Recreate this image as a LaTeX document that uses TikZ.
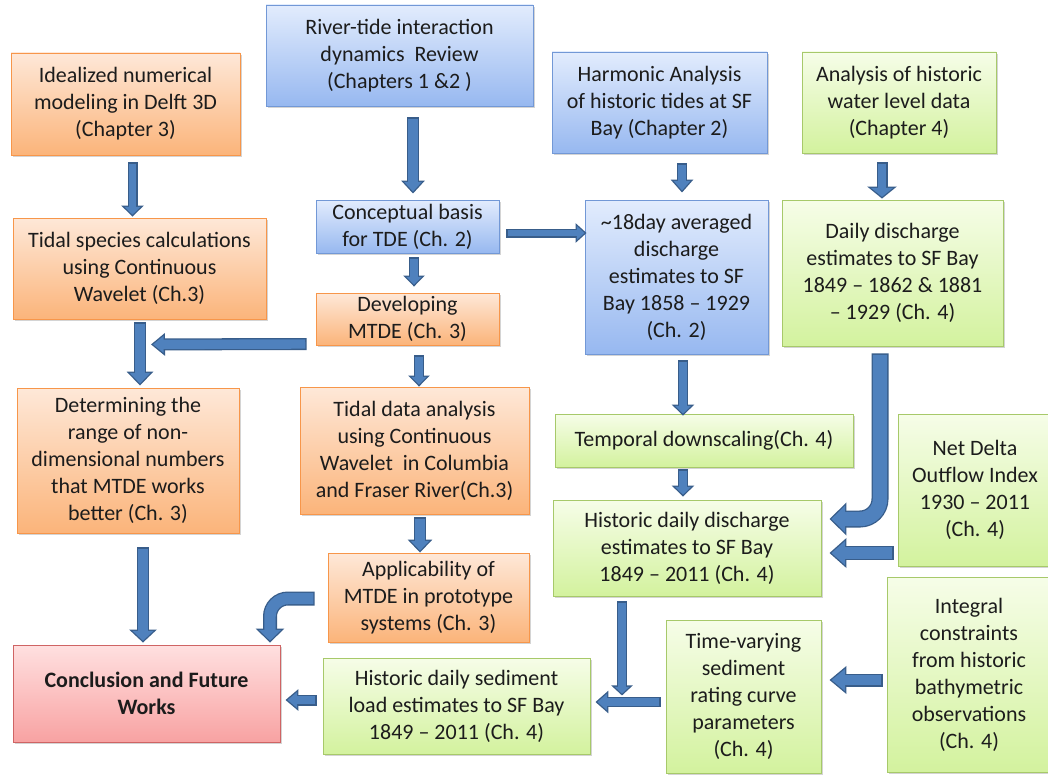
\documentclass[tikz,border=0pt]{standalone}
\usepackage{fontspec}
\setmainfont{Carlito}
\usetikzlibrary{arrows.meta,calc,shadows}
\definecolor{bT}{HTML}{E2ECFD}
\definecolor{bBo}{HTML}{97B8F0}
\definecolor{bB}{HTML}{7298D6}
\definecolor{oT}{HTML}{FEE8D8}
\definecolor{oBo}{HTML}{FBB47A}
\definecolor{oB}{HTML}{F7964A}
\definecolor{gT}{HTML}{F6FDE8}
\definecolor{gBo}{HTML}{D3F29E}
\definecolor{gB}{HTML}{A7C96A}
\definecolor{rT}{HTML}{FFE0E0}
\definecolor{rBo}{HTML}{F8A2A2}
\definecolor{rB}{HTML}{CF6464}
\definecolor{arrF}{HTML}{4F81BD}
\definecolor{arrB}{HTML}{385D8A}
\definecolor{txt}{HTML}{1C1C1C}
\newcommand\boxfont{\fontsize{22}{27}\selectfont}
\def\fab{1.3}
\newcommand\fatarrow[4]{%
  \pgfmathsetmacro\faS{#1-2*\fab}%
  \pgfmathsetmacro\faA{atan((#2/2)/#3)}%
  \pgfmathsetmacro\faI{\fab/sin(\faA)}%
  \pgfmathsetmacro\faL{#3-\fab-\faI}%
  \pgfmathsetmacro\faW{#2*\faL/#3}%
  \draw[draw=arrB, line width=#1pt, -{Triangle[length=#3pt,width=#2pt]}] #4;%
  \draw[draw=arrF, line width=\faS pt, shorten <=\fab pt, shorten >=\faI pt, -{Triangle[length=\faL pt,width=\faW pt]}] #4;%
}
\tikzset{
  box/.style={draw, line width=0.9pt, align=center, inner sep=1pt, font=\boxfont, text=txt,
    drop shadow={shadow xshift=1.6pt, shadow yshift=-1.6pt, opacity=0.3, fill=black!55}},
  bbox/.style={box, draw=bB, top color=bT, bottom color=bBo},
  obox/.style={box, draw=oB, top color=oT, bottom color=oBo},
  gbox/.style={box, draw=gB, top color=gT, bottom color=gBo},
  rbox/.style={box, draw=rB, top color=rT, bottom color=rBo},
}
\begin{document}
\begin{tikzpicture}[x=1pt,y=-1pt]
\useasboundingbox[fill=white] (0,0) rectangle (1048,776);
% boxes
\node[obox, minimum width=229pt, minimum height=102pt] (ideal) at (125.5,104) {Idealized numerical\\modeling in Delft 3D\\(Chapter 3)};
\node[bbox, minimum width=267pt, minimum height=101pt] (river) at (399.5,55.5) {River-tide interaction\\dynamics~~Review\\(Chapters 1 \&2 )};
\node[bbox, minimum width=215pt, minimum height=101pt] (harm) at (659.5,102.5) {Harmonic Analysis\\of historic tides at SF\\Bay (Chapter 2)};
\node[gbox, minimum width=194pt, minimum height=101pt] (water) at (899,102.5) {Analysis of historic\\water level data\\(Chapter 4)};
\node[obox, minimum width=253pt, minimum height=101pt] (species) at (139.5,268.5) {Tidal species calculations\\using Continuous\\Wavelet (Ch.3)};
\node[bbox, minimum width=183pt, minimum height=53pt] (concept) at (407.5,226.5) {Conceptual basis\\for TDE (Ch. 2)};
\node[bbox, minimum width=183pt, minimum height=154pt] (avg) at (676.5,277) {\textasciitilde18day averaged\\discharge\\estimates to SF\\Bay 1858 – 1929\\(Ch. 2)};
\node[gbox, minimum width=221pt, minimum height=146pt] (daily) at (892.5,273) {Daily discharge\\estimates to SF Bay\\1849 – 1862 \& 1881\\– 1929 (Ch. 4)};
\node[obox, minimum width=183pt, minimum height=52pt] (develop) at (407.5,319) {Developing\\MTDE (Ch. 3)};
\node[obox, minimum width=222pt, minimum height=145pt] (determ) at (128,460.5) {Determining the\\range of non-\\dimensional numbers\\that MTDE works\\better (Ch. 3)};
\node[obox, minimum width=229pt, minimum height=127pt] (tdata) at (414.5,450.5) {Tidal data analysis\\using Continuous\\Wavelet~~in Columbia\\and Fraser River(Ch.3)};
\node[gbox, minimum width=298pt, minimum height=53pt] (temporal) at (704,440.5) {Temporal downscaling(Ch. 4)};
\node[gbox, minimum width=154pt, minimum height=152pt] (netdelta) at (975,490) {Net Delta\\Outflow Index\\1930 – 2011\\(Ch. 4)};
\node[gbox, minimum width=268pt, minimum height=96pt] (hdis) at (687,548) {Historic daily discharge\\estimates to SF Bay\\1849 – 2011 (Ch. 4)};
\node[obox, minimum width=201pt, minimum height=89pt] (applic) at (428.5,597.5) {Applicability of\\MTDE in prototype\\systems (Ch. 3)};
\node[gbox, minimum width=164pt, minimum height=195pt] (integral) at (969,674.5) {Integral\\constraints\\from historic\\bathymetric\\observations\\(Ch. 4)};
\node[gbox, minimum width=155pt, minimum height=153pt] (tvary) at (743.5,696.5) {Time-varying\\sediment\\rating curve\\parameters\\(Ch. 4)};
\node[gbox, minimum width=267pt, minimum height=96pt] (sediment) at (456.5,706) {Historic daily sediment\\load estimates to SF Bay\\1849 – 2011 (Ch. 4)};
\node[rbox, minimum width=267pt, minimum height=97pt, font=\boxfont\bfseries] (concl) at (146.5,693.5) {Conclusion and Future\\Works};
% junction points on arrows
\coordinate (j1) at ($(species.south)+(11.5,25)$);
\coordinate (j2) at ($(hdis.south)+(-65,99)$);
% arrows
\fatarrow{10}{22}{11}{($(ideal.south)+(7,7)$) -- ($(species.north)+(-7,-1)$)}
\fatarrow{12}{23}{13}{($(river.south)+(13.5,11)$) -- ($(concept.north)+(5.5,-6)$)}
\fatarrow{10}{22}{13}{($(harm.south)+(22.5,10)$) -- ($(avg.north)+(5.5,-7)$)}
\fatarrow{11}{29}{12}{($(water.south)+(-17,9)$) -- ($(daily.north)+(-10.5,-1)$)}
\fatarrow{9}{19}{11}{($(concept.east)+(7,6.5)$) -- ($(avg.west)+(2,-44)$)}
\fatarrow{10}{21}{11}{($(concept.south)+(6.5,4)$) -- ($(develop.north)+(6.5,-6)$)}
\fatarrow{12}{26}{14}{($(species.south)+(0.5,3)$) -- ($(determ.north)+(12,-2)$)}
\fatarrow{12}{22}{14}{($(develop.west)+(-9,25)$) -- (j1)}
\fatarrow{10}{21}{11}{($(develop.south)+(11.5,10)$) -- ($(tdata.north)+(4.5,0)$)}
\fatarrow{12}{24}{13}{($(tdata.south)+(5.5,3)$) -- ($(applic.north)+(-8.5,0)$)}
\fatarrow{12}{27}{13}{($(determ.south)+(15,14)$) -- ($(concl.north)+(-3.5,-2)$)}
\fatarrow{14}{28}{14}{[rounded corners=18pt] ($(applic.west)+(-13,1)$) -| ($(concl.north)+(123.5,-2)$)}
\fatarrow{11}{21}{13}{($(sediment.west)+(-6,-6)$) -- ($(concl.east)+(5,6.5)$)}
\fatarrow{10}{22}{11}{($(avg.south)+(6.5,6)$) -- ($(temporal.north)+(-21,2)$)}
\fatarrow{10}{22}{11}{($(temporal.south)+(-21,2)$) -- ($(hdis.north)+(-4,-3)$)}
\fatarrow{17}{32}{17}{[rounded corners=20pt] ($(daily.south)+(-12.5,7)$) |- ($(hdis.east)+(8,-29)$)}
\fatarrow{14}{29}{17}{($(netdelta.west)+(-4,63)$) -- ($(hdis.east)+(8,5)$)}
\fatarrow{10}{22}{13}{($(tvary.west)+(-5,5.5)$) -- ($(sediment.east)+(5,-4)$)}
\fatarrow{10}{21}{10}{($(hdis.south)+(-65,5)$) -- (j2)}
\fatarrow{13}{27}{17}{($(integral.west)+(-4,5.5)$) -- ($(tvary.east)+(8,-16.5)$)}
\end{tikzpicture}
\end{document}
